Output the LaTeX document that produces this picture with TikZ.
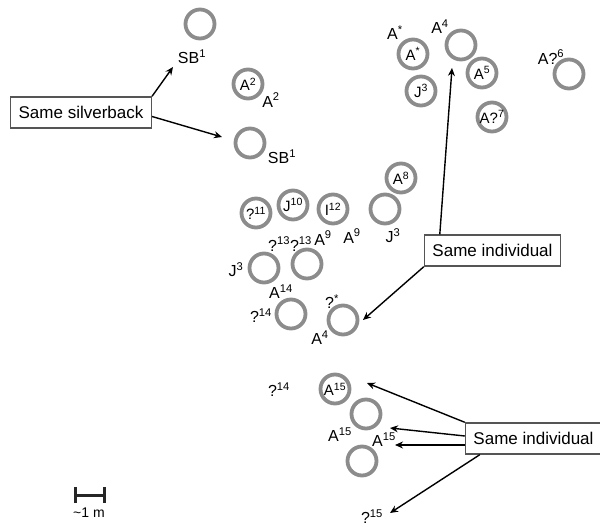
\documentclass[tikz,border=0pt]{standalone}
\usepackage{fontspec}
\setmainfont{Liberation Sans}
\usetikzlibrary{arrows.meta}
\definecolor{ringgray}{HTML}{8C8C8C}
\definecolor{boxgray}{HTML}{555555}
\newcommand{\idx}[1]{\textsuperscript{#1}}

\begin{document}
\begin{tikzpicture}[x=1pt,y=-1pt,
        ring/.style={circle,draw=ringgray,line width=3.8pt,minimum size=29pt,inner sep=0pt,font=\fontsize{15}{17}\selectfont},
        lbl/.style={inner sep=0pt,font=\fontsize{16}{18}\selectfont},
        tag/.style={draw=boxgray,line width=1.4pt,fill=white,inner xsep=8pt,minimum height=31pt,font=\fontsize{17}{20}\selectfont},
        link/.style={->,line width=1.4pt},
        >={Stealth[length=8pt,width=7pt]}]
        \useasboundingbox (0,0) rectangle (600,527);

        %draw the positions of the animals
        \node[ring] (sbtop) at (200,24) {};
        \node[ring] (atwo) at (248,84) {A\idx{2}};
        \node[ring] (sbbot) at (250,143) {};
        \node[ring] (astar) at (413,54) {A\idx{*}};
        \node[ring] (afour) at (461,45) {};
        \node[ring] (jthree) at (421,91) {J\idx{3}};
        \node[ring] (afive) at (482,73) {A\idx{5}};
        \node[ring] (aseven) at (492,117) {A?\idx{7}};
        \node[ring] (asix) at (569,74) {};
        \node[ring] (aeight) at (401,178) {A\idx{8}};
        \node[ring] (jthreeb) at (385,209) {};
        \node[ring] (qeleven) at (256,213) {?\idx{11}};
        \node[ring] (jten) at (293,205) {J\idx{10}};
        \node[ring] (itwelve) at (333,209) {I\idx{12}};
        \node[ring] (qthirteena) at (264,268) {};
        \node[ring] (qthirteenb) at (307,264) {};
        \node[ring] (afourteen) at (291,314) {};
        \node[ring] (qstar) at (343,320) {};
        \node[ring] (afifteen) at (335,389) {A\idx{15}};
        \node[ring] (afifteenb) at (366,414) {};
        \node[ring] (afifteenc) at (362,461) {};

        %labels next to the rings
        \node[lbl] (lsbtop) at (192,57) {SB\idx{1}};
        \node[lbl] (latwo) at (271,100) {A\idx{2}};
        \node[lbl] (lsbbot) at (282,157) {SB\idx{1}};
        \node[lbl] (lastar) at (395,33) {A\idx{*}};
        \node[lbl] (lafour) at (440,27) {A\idx{4}};
        \node[lbl] (lasix) at (551,57) {A?\idx{6}};
        \node[lbl] (ljthreeb) at (393,236) {J\idx{3}};
        \node[lbl] (lqthirteen) at (290,244) {?\idx{13}?\idx{13}};
        \node[lbl] (lanine) at (323,238) {A\idx{9}};
        \node[lbl] (laninew) at (352,236) {A\idx{9}};
        \node[lbl] (ljthreec) at (236,270) {J\idx{3}};
        \node[lbl] (lafourteen) at (281,292) {A\idx{14}};
        \node[lbl] (lqfourteen) at (261,316) {?\idx{14}};
        \node[lbl] (lqstar) at (332,302) {?\idx{*}};
        \node[lbl] (lafourb) at (320,338) {A\idx{4}};
        \node[lbl] (lqfourteenb) at (279,390) {?\idx{14}};
        \node[lbl] (lafifteen) at (340,435) {A\idx{15}};
        \node[lbl] (lafifteenb) at (384,440) {A\idx{15}};
        \node[lbl] (lqfifteen) at (372,517) {?\idx{15}};

        %the boxes
        \node[tag] (samesb) at (81,112.5) {Same silverback};
        \node[tag] (sameind) at (492.5,250.5) {Same individual};
        \node[tag] (sameindb) at (533.5,438.5) {Same individual};

        %arrow tips
        \coordinate (tipsbtop) at (173,67);
        \coordinate (tipsbbot) at (222,137);
        \coordinate (tipafour) at (452,68);
        \coordinate (tipqstar) at (363,320);
        \coordinate (tipafifteen) at (367,383);
        \coordinate (tipafifteenb) at (390,428);
        \coordinate (tipafifteenc) at (395,445);
        \coordinate (tipqfifteen) at (390,513);

        \draw[link] (samesb.north east) -- (tipsbtop);
        \draw[link] ([yshift=-4pt]samesb.east) -- (tipsbbot);
        \draw[link] ([xshift=16pt]sameind.north west) -- (tipafour);
        \draw[link] (sameind.south west) -- (tipqstar);
        \draw[link] (sameindb.north west) -- (tipafifteen);
        \draw[link] ([yshift=2.5pt]sameindb.west) -- (tipafifteenb);
        \draw[link] ([yshift=-6.5pt]sameindb.west) -- (tipafifteenc);
        \draw[link] ([xshift=15pt]sameindb.south west) -- (tipqfifteen);

        %scale bar
        \coordinate (barl) at (73.5,495);
        \coordinate (barr) at (105.5,495);
        \draw[{Bar[width=16pt,line width=3pt]}-{Bar[width=16pt,line width=3pt]},line width=3pt,black!85] (barl) -- (barr);
        \node[lbl,font=\fontsize{14}{16}\selectfont] (barlabel) at (89,513) {\textasciitilde1 m};
\end{tikzpicture}
\end{document}
